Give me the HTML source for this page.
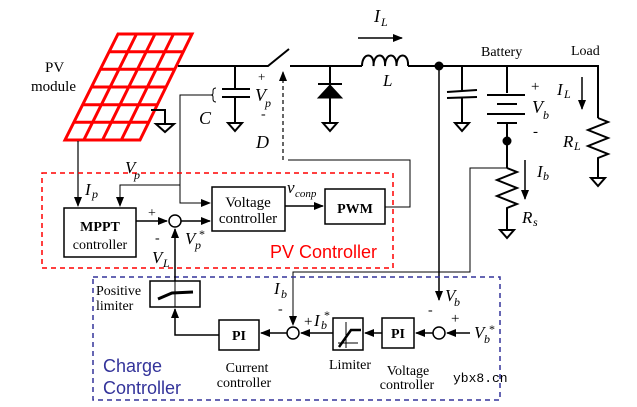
<!DOCTYPE html>
<html><head><meta charset="utf-8"><style>
body{margin:0;background:#fff}
svg{display:block}
text{font-family:"Liberation Serif",serif;fill:#000}
.i{font-style:italic}
.s{font-family:"Liberation Sans",sans-serif}
</style></head><body>
<svg width="637" height="407" viewBox="0 0 637 407" xmlns="http://www.w3.org/2000/svg">
<defs>
<marker id="a" markerWidth="10" markerHeight="10" refX="9" refY="5" orient="auto" markerUnits="userSpaceOnUse"><path d="M0,1 L10,5 L0,9 z" fill="#000"/></marker>
</defs>
<g fill="none" stroke="#000" stroke-width="1.5">
<g stroke="#f00" stroke-width="3">
<path d="M118,34 L192,34 L140,140 L65,140 Z"/>
<path d="M109.2,51.7 L183.3,51.7 M100.3,69.3 L174.7,69.3 M91.5,87 L166,87 M82.7,104.7 L157.3,104.7 M73.8,122.3 L148.7,122.3"/>
<path d="M136.5,34 L83.8,140 M155,34 L102.5,140 M173.5,34 L121.3,140"/>
</g>
<path d="M178,66 L268,66 L289,49" stroke-width="2"/>
<path d="M290,66 L362,66 M408,66 L598,66 L598,118" stroke-width="2"/>
<path d="M151,110 L165,110 L165,124" stroke-width="2"/>
<path d="M156,124 L174,124 L165,132 Z" stroke-width="2"/>
<path d="M235,66 L235,89 M222,89 L250,89 M222,97 L250,97 M235,97 L235,123" stroke-width="2"/>
<path d="M228,123 L242,123 L235,131 Z" stroke-width="2"/>
<path d="M216,88 q-3,0 -3,3 l0,2 q0,2 -2,2 q2,0 2,2 l0,2 q0,3 3,3" stroke-width="1"/>
<path d="M211,95 L180,95 L180,203 L210,203" stroke-width="1" marker-end="url(#a)"/>
<path d="M180,185 L120,185 L120,206" stroke-width="1" marker-end="url(#a)"/>
<path d="M78,141 L78,206" stroke-width="1.2" marker-end="url(#a)"/>
<path d="M283,160 L283,72" stroke-width="1.2" stroke-dasharray="4,3" marker-end="url(#a)"/>
<path d="M288,160 L410,160 L410,207 L385,207" stroke-width="1"/>
<path d="M330,66 L330,123" stroke-width="2"/>
<path d="M318,84 L342,84" stroke-width="2"/>
<path d="M330,85 L318,98 L342,98 Z" fill="#000" stroke-width="1"/>
<path d="M323,123 L337,123 L330,131 Z" stroke-width="2"/>
<path d="M362,66 C362,52 375,52 373.5,66 C373.5,52 386,52 385,66 C385,52 397,52 396.5,66 C396.5,52 409,52 408,66" stroke-width="2"/>
<path d="M358,38 L402,38" stroke-width="1.5" marker-end="url(#a)"/>
<circle cx="439" cy="66" r="4.5" fill="#000" stroke="none"/>
<path d="M439,66 L439,300" stroke-width="1.5" marker-end="url(#a)"/>
<path d="M462,66 L462,90 M447,92 L477,90 M447,98 L477,97 M462,97 L462,123" stroke-width="2"/>
<path d="M455,123 L469,123 L462,131 Z" stroke-width="2"/>
<path d="M507,66 L507,93 M487,95 L525,95 M497,104 L517,104 M487,114 L525,114 M497,123 L517,123 M507,123 L507,168" stroke-width="2"/>
<circle cx="507" cy="141" r="4.5" fill="#000" stroke="none"/>
<path d="M507,168 L517,172 L497,180 L517,188 L497,196 L517,204 L507,208 L507,230" stroke-width="2"/>
<path d="M500,230 L514,230 L507,238 Z" stroke-width="2"/>
<path d="M525,160 L525,199" stroke-width="1.5" marker-end="url(#a)"/>
<path d="M507,168 L470,168 L470,272 L293,272 L293,325" stroke-width="1" marker-end="url(#a)"/>
<path d="M598,118 L608,122 L588,130 L608,138 L588,146 L608,154 L598,158 L598,178" stroke-width="2"/>
<path d="M591,178 L605,178 L598,186 Z" stroke-width="2"/>
<path d="M582,77 L582,109" stroke-width="1.5" marker-end="url(#a)"/>
<rect x="42" y="173" width="351" height="95" stroke="#f00" stroke-width="1.5" stroke-dasharray="5,4"/>
<rect x="93" y="277" width="407" height="123" stroke="#33339a" stroke-width="1.5" stroke-dasharray="5,4"/>
<rect x="64" y="208" width="72" height="49" stroke-width="1.5"/>
<circle cx="175" cy="221" r="6" stroke-width="1.5"/>
<path d="M136,221 L167,221" stroke-width="1.5" marker-end="url(#a)"/>
<path d="M181,221 L210,221" stroke-width="1.5" marker-end="url(#a)"/>
<rect x="212" y="187" width="73" height="44" stroke-width="1.5"/>
<path d="M285,206 L323,206" stroke-width="1.5" marker-end="url(#a)"/>
<rect x="325" y="189" width="60" height="35" stroke-width="1.5"/>
<path d="M175,281 L175,229" stroke-width="1.5" marker-end="url(#a)"/>
<rect x="150" y="281" width="50" height="26" stroke-width="1.5"/>
<path d="M175,281 L175,307" stroke-width="1"/>
<path d="M158,299 L172,293 L193,292" stroke-width="3"/>
<path d="M219,335 L175,335 L175,309" stroke-width="1.5" marker-end="url(#a)"/>
<rect x="219" y="320" width="40" height="30" stroke-width="1.5"/>
<circle cx="293" cy="333" r="6" stroke-width="1.5"/>
<path d="M287,333 L261,333" stroke-width="1.5" marker-end="url(#a)"/>
<rect x="333" y="318" width="30" height="32" stroke-width="1.5"/>
<path d="M338,343 L358,343 M346,322 L346,348" stroke-width="1"/>
<path d="M339,347 L351,330 L361,330" stroke-width="2.5"/>
<path d="M333,333 L301,333" stroke-width="1.5" marker-end="url(#a)"/>
<rect x="382" y="318" width="32" height="30" stroke-width="1.5"/>
<path d="M382,333 L365,333" stroke-width="1.5" marker-end="url(#a)"/>
<circle cx="439" cy="333" r="6" stroke-width="1.5"/>
<path d="M433,333 L416,333" stroke-width="1.5" marker-end="url(#a)"/>
<path d="M470,333 L447,333" stroke-width="1.5" marker-end="url(#a)"/>
</g>
<text x="45" y="72" font-size="15">PV</text>
<text x="31" y="91" font-size="15">module</text>
<text x="258" y="81" font-size="13">+</text>
<text x="255" y="101" font-size="18" class="i">V</text><text x="265" y="107" font-size="12" class="i">p</text>
<text x="261" y="118" font-size="14">-</text>
<text x="199" y="124" font-size="18" class="i">C</text>
<text x="256" y="148" font-size="18" class="i">D</text>
<text x="374" y="22" font-size="18" class="i">I</text><text x="381" y="26" font-size="12" class="i">L</text>
<text x="383" y="86" font-size="17" class="i">L</text>
<text x="481" y="56" font-size="14">Battery</text>
<text x="571" y="55" font-size="14">Load</text>
<text x="531" y="91" font-size="15">+</text>
<text x="532" y="113" font-size="18" class="i">V</text><text x="543" y="119" font-size="12" class="i">b</text>
<text x="533" y="136" font-size="15">-</text>
<text x="557" y="95" font-size="17" class="i">I</text><text x="564" y="98" font-size="12" class="i">L</text>
<text x="563" y="147" font-size="17" class="i">R</text><text x="574" y="150" font-size="12" class="i">L</text>
<text x="537" y="177" font-size="17" class="i">I</text><text x="543" y="180" font-size="12" class="i">b</text>
<text x="522" y="223" font-size="17" class="i">R</text><text x="533" y="226" font-size="12" class="i">s</text>
<text x="125" y="173" font-size="17" class="i">V</text><text x="134" y="179" font-size="12" class="i">p</text>
<text x="85" y="195" font-size="17" class="i">I</text><text x="92" y="198" font-size="12" class="i">p</text>
<text x="100" y="231" font-size="14" font-weight="bold" text-anchor="middle">MPPT</text>
<text x="100" y="249" font-size="14" text-anchor="middle">controller</text>
<text x="148" y="217" font-size="14">+</text>
<text x="155" y="242" font-size="14">-</text>
<text x="152" y="263" font-size="17" class="i">V</text><text x="163" y="267" font-size="12" class="i">L</text>
<text x="185" y="244" font-size="17" class="i">V</text><text x="195" y="249" font-size="12" class="i">p</text><text x="199" y="238" font-size="12">*</text>
<text x="248" y="207" font-size="15" text-anchor="middle">Voltage</text>
<text x="248" y="223" font-size="15" text-anchor="middle">controller</text>
<text x="287" y="193" font-size="17" class="i">v</text><text x="295" y="197" font-size="11" class="i">conp</text>
<text x="355" y="213" font-size="14" font-weight="bold" text-anchor="middle">PWM</text>
<text x="270" y="258" font-size="18" class="s" style="fill:#f00">PV Controller</text>
<text x="96" y="295" font-size="14">Positive</text>
<text x="96" y="310" font-size="14">limiter</text>
<text x="274" y="294" font-size="17" class="i">I</text><text x="281" y="298" font-size="12" class="i">b</text>
<text x="278" y="313" font-size="14">-</text>
<text x="304" y="326" font-size="15">+</text><text x="314" y="326" font-size="17" class="i">I</text><text x="321" y="329" font-size="12" class="i">b</text><text x="324" y="319" font-size="12">*</text>
<text x="239" y="340" font-size="14" font-weight="bold" text-anchor="middle">PI</text>
<text x="398" y="338" font-size="14" font-weight="bold" text-anchor="middle">PI</text>
<text x="445" y="301" font-size="17" class="i">V</text><text x="454" y="306" font-size="12" class="i">b</text>
<text x="428" y="314" font-size="14">-</text>
<text x="451" y="323" font-size="15">+</text>
<text x="474" y="338" font-size="17" class="i">V</text><text x="484" y="343" font-size="12" class="i">b</text><text x="489" y="333" font-size="12">*</text>
<text x="247" y="372" font-size="14" text-anchor="middle">Current</text>
<text x="244" y="387" font-size="14" text-anchor="middle">controller</text>
<text x="350" y="369" font-size="14" text-anchor="middle">Limiter</text>
<text x="408" y="375" font-size="14" text-anchor="middle">Voltage</text>
<text x="407" y="389" font-size="14" text-anchor="middle">controller</text>
<text x="103" y="372" font-size="18" class="s" style="fill:#33339a">Charge</text>
<text x="103" y="394" font-size="18" class="s" style="fill:#33339a">Controller</text>
<text x="453" y="382" font-size="13" style="font-family:'Liberation Mono',monospace">ybx8.cn</text>
</svg>
</body></html>
